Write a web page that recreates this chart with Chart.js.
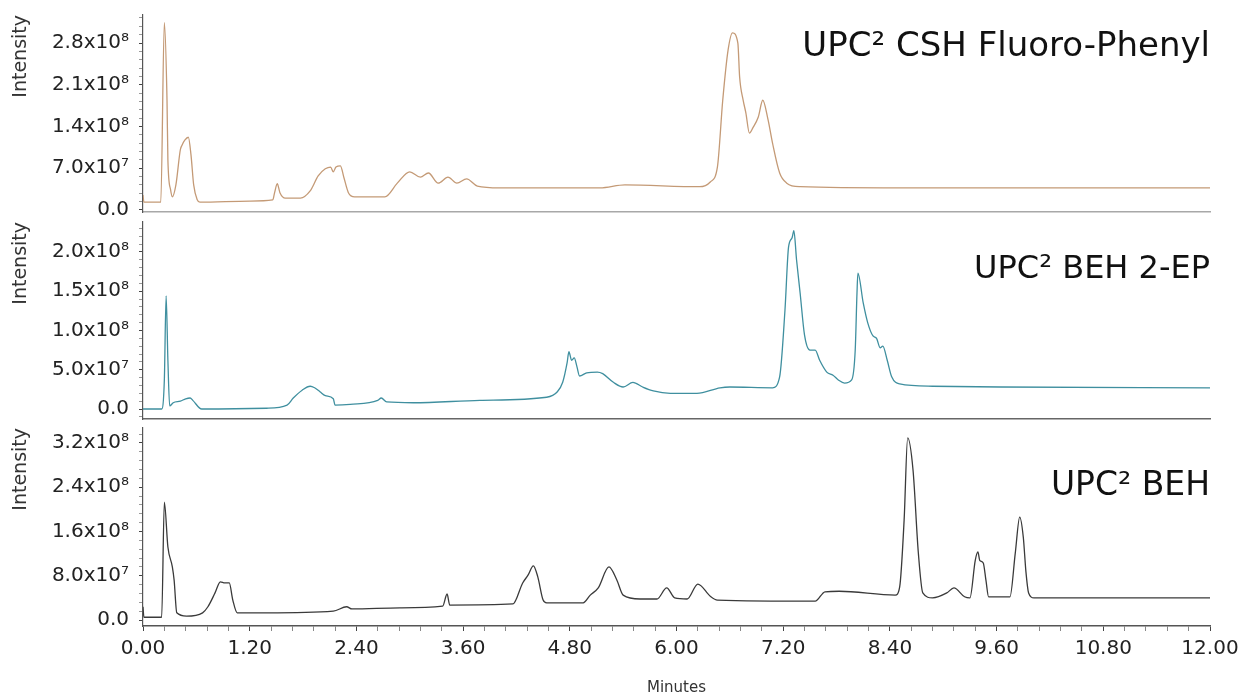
<!DOCTYPE html>
<html><head><meta charset="utf-8">
<script src="https://cdn.jsdelivr.net/npm/chart.js@4.4.1/dist/chart.umd.min.js"></script>
<style>
html,body{margin:0;padding:0;background:#fff;}
#wrap{position:relative;width:1247px;height:700px;overflow:hidden;background:#fff;}
.panel{position:absolute;left:0;width:1247px;}
</style></head><body>
<div id="wrap">
  <div class="panel" style="top:0;height:222px"><canvas id="c1"></canvas></div>
  <div class="panel" style="top:212px;height:217px"><canvas id="c2"></canvas></div>
  <div class="panel" style="top:420px;height:280px"><canvas id="c3"></canvas></div>
</div>
<script>
// ---------- data ----------
const timeCSH = [0.00,0.01,0.20,0.24,0.27,0.28,0.31,0.33,0.37,0.42,0.44,0.47,0.51,0.54,0.57,0.61,0.64,1.20,1.46,1.48,1.51,1.54,1.60,1.77,1.88,1.97,2.05,2.11,2.14,2.17,2.22,2.26,2.31,2.38,2.72,2.86,3.00,3.12,3.21,3.32,3.43,3.53,3.64,3.76,4.01,4.69,5.14,5.42,6.26,6.38,6.46,6.52,6.58,6.63,6.69,6.71,6.75,6.78,6.82,6.86,6.92,6.97,7.03,7.08,7.16,7.24,7.39,8.51,9.64,12.00];
const intensityCSH = [25e6,13e6,13e6,314e6,184e6,84e6,34e6,22e6,42e6,101e6,109e6,117e6,122e6,92e6,42e6,17e6,13e6,15e6,17e6,29e6,44e6,29e6,20e6,20e6,32e6,57e6,69e6,72e6,64e6,72e6,74e6,54e6,29e6,22e6,22e6,45e6,64e6,55e6,62e6,45e6,55e6,45e6,52e6,40e6,37e6,37e6,37e6,42e6,39e6,47e6,72e6,184e6,268e6,297e6,280e6,223e6,184e6,163e6,129e6,138e6,156e6,184e6,151e6,112e6,62e6,45e6,39e6,37e6,37e6,37e6];

const timeEP = [0.00,0.21,0.24,0.26,0.28,0.30,0.34,0.42,0.48,0.53,0.56,0.66,1.39,1.62,1.69,1.79,1.88,1.93,1.99,2.05,2.14,2.16,2.33,2.64,2.68,2.74,3.04,3.79,4.54,4.66,4.72,4.77,4.79,4.82,4.85,4.88,4.91,4.99,5.11,5.17,5.29,5.40,5.51,5.62,5.74,5.93,6.23,6.49,6.60,7.08,7.16,7.22,7.26,7.30,7.32,7.35,7.39,7.44,7.50,7.56,7.61,7.69,7.76,7.82,7.89,7.97,8.01,8.03,8.04,8.10,8.15,8.21,8.25,8.29,8.32,8.37,8.42,8.51,8.88,9.64,12.00];
const intensityEP = [0,0,37e6,144e6,62e6,4e6,8e6,10e6,13e6,14e6,11e6,0,1e6,5e6,14e6,24e6,29e6,27e6,22e6,17e6,13e6,5e6,6e6,11e6,14e6,9e6,8e6,11e6,15e6,22e6,34e6,59e6,73e6,62e6,65e6,54e6,42e6,46e6,47e6,45e6,34e6,28e6,34e6,28e6,23e6,20e6,20e6,27e6,28e6,27e6,41e6,126e6,206e6,218e6,227e6,190e6,148e6,94e6,75e6,75e6,62e6,47e6,43e6,37e6,33e6,37e6,75e6,148e6,173e6,135e6,110e6,93e6,90e6,78e6,80e6,62e6,41e6,32e6,29e6,28e6,27e6];

const timeBEH = [0.00,0.01,0.21,0.24,0.28,0.33,0.35,0.38,0.49,0.67,0.73,0.81,0.87,0.92,0.97,1.01,1.06,1.39,2.14,2.29,2.35,2.89,3.37,3.42,3.45,4.16,4.27,4.33,4.39,4.44,4.50,4.54,4.95,5.03,5.12,5.24,5.33,5.40,5.59,5.78,5.89,5.98,6.12,6.24,6.38,6.46,7.56,7.67,7.83,8.46,8.51,8.56,8.60,8.66,8.72,8.77,8.88,9.04,9.12,9.24,9.30,9.36,9.39,9.41,9.45,9.48,9.51,9.75,9.81,9.86,9.90,9.93,9.96,10.02,12.00];
const intensityBEH = [24e6,5e6,5e6,213e6,132e6,96e6,72e6,13e6,7e6,13e6,24e6,49e6,69e6,67e6,67e6,36e6,13e6,13e6,16e6,24e6,20e6,22e6,25e6,47e6,27e6,29e6,67e6,81e6,98e6,78e6,36e6,31e6,31e6,45e6,58e6,96e6,72e6,45e6,38e6,38e6,58e6,40e6,38e6,65e6,43e6,36e6,34e6,51e6,52e6,45e6,60e6,181e6,329e6,271e6,121e6,49e6,40e6,49e6,58e6,42e6,40e6,108e6,123e6,108e6,103e6,72e6,42e6,42e6,121e6,186e6,150e6,87e6,49e6,40e6,40e6];

const xTickValues = [0,1.2,2.4,3.6,4.8,6.0,7.2,8.4,9.6,10.8,12.0];
const xTickLabels = ['0.00','1.20','2.40','3.60','4.80','6.00','7.20','8.40','9.60','10.80','12.00'];

const yTicksCSH = [0,7e7,1.4e8,2.1e8,2.8e8];
const yLabelsCSH = ['0.0','7.0x10⁷','1.4x10⁸','2.1x10⁸','2.8x10⁸'];
const yTicksEP = [0,5e7,1e8,1.5e8,2e8];
const yLabelsEP = ['0.0','5.0x10⁷','1.0x10⁸','1.5x10⁸','2.0x10⁸'];
const yTicksBEH = [0,8e7,1.6e8,2.4e8,3.2e8];
const yLabelsBEH = ['0.0','8.0x10⁷','1.6x10⁸','2.4x10⁸','3.2x10⁸'];

const panelTitles = ['UPC² CSH Fluoro-Phenyl','UPC² BEH 2-EP','UPC² BEH'];
const axisTitleY = 'Intensity';
const axisTitleX = 'Minutes';

// ---------- helpers ----------
const FONT = '"DejaVu Sans", Verdana, sans-serif';

function tickList(majors, subdiv, min, max) {
  const step = (majors[1] - majors[0]) / subdiv;
  const out = [];
  const first = majors[0];
  let k = Math.ceil((min - first) / step - 1e-9);
  for (;; k++) {
    const v = first + k * step;
    if (v > max + 1e-9) break;
    const major = majors.some(m => Math.abs(m - v) < step * 1e-3);
    out.push({value: Math.round(v * 1e6) / 1e6, major});
  }
  return out;
}

function labelFor(values, labels) {
  return (v) => {
    const i = values.findIndex(m => Math.abs(m - v) < Math.abs(values[1] - values[0]) * 1e-3);
    return i >= 0 ? labels[i] : '';
  };
}

const panelTitlePlugin = {
  id: 'panelTitle',
  afterDraw(chart, args, opts) {
    if (!opts || !opts.text) return;
    const {ctx, chartArea} = chart;
    ctx.save();
    ctx.font = opts.size + 'px ' + FONT;
    ctx.fillStyle = '#111';
    ctx.textAlign = 'right';
    ctx.textBaseline = 'middle';
    ctx.fillText(opts.text, chartArea.right, chartArea.top + opts.offsetY);
    ctx.restore();
  }
};

function makePanel(id, cfg) {
  const data = cfg.times.map((t, i) => ({x: t, y: cfg.values[i]}));
  const showX = cfg.showX;
  return new Chart(document.getElementById(id), {
    type: 'line',
    data: { datasets: [{ data, borderColor: cfg.color, borderWidth: 1.3, pointRadius: 0, cubicInterpolationMode: 'monotone', fill: false }] },
    plugins: [panelTitlePlugin],
    options: {
      responsive: true, maintainAspectRatio: false, animation: false,
      layout: { padding: { left: 0, right: 37, top: cfg.padTop, bottom: 0 } },
      plugins: {
        legend: { display: false }, tooltip: { enabled: false },
        panelTitle: { text: cfg.title, size: cfg.titleSize, offsetY: cfg.titleOffset }
      },
      scales: {
        x: {
          type: 'linear', min: 0, max: 12,
          afterBuildTicks: s => { s.ticks = tickList(xTickValues, 5, 0, 12); },
          afterFit: s => { s.height = cfg.xHeight; s.paddingLeft = 0; s.paddingRight = 0; },
          ticks: { display: showX, autoSkip: false, maxRotation: 0, padding: 6, color: '#222',
                   font: { family: FONT, size: 20 }, callback: labelFor(xTickValues, xTickLabels) },
          grid: { display: showX, drawOnChartArea: false, tickLength: 5,
                  color: c => (c.tick && c.tick.major) ? '#444' : '#888' },
          border: { display: true, color: cfg.xBorder, width: 1.5 },
          title: { display: showX, text: axisTitleX, color: '#333', font: { family: FONT, size: 15 }, padding: { top: 0, bottom: 3 } }
        },
        y: {
          type: 'linear', position: 'left', min: cfg.yMin, max: cfg.yMax,
          afterBuildTicks: s => { s.ticks = tickList(cfg.yTicks, 5, cfg.yMin, cfg.yMax); },
          afterFit: s => { s.width = 143; s.paddingTop = 0; s.paddingBottom = 0; },
          ticks: { autoSkip: false, padding: 10, color: '#222', font: { family: FONT, size: 20 },
                   callback: labelFor(cfg.yTicks, cfg.yLabels) },
          grid: { drawOnChartArea: false, tickLength: 4,
                  color: c => (c.tick && c.tick.major) ? '#444' : '#999' },
          border: { display: true, color: '#555', width: 1.2 },
          title: { display: true, text: axisTitleY, align: 'end', color: '#333',
                   font: { family: FONT, size: 19 }, padding: { top: 10, bottom: 0 } }
        }
      }
    }
  });
}

makePanel('c1', { times: timeCSH, values: intensityCSH, color: '#c49a76', title: panelTitles[0], titleOffset: 32, titleSize: 34,
  yTicks: yTicksCSH, yLabels: yLabelsCSH, yMin: -3.4e6, yMax: 3.27e8, padTop: 15, xHeight: 10, showX: false, xBorder: '#a8a8a8' });
makePanel('c2', { times: timeEP, values: intensityEP, color: '#3f8f9f', title: panelTitles[1], titleOffset: 48, titleSize: 32,
  yTicks: yTicksEP, yLabels: yLabelsEP, yMin: -1.27e7, yMax: 2.38e8, padTop: 10, xHeight: 10, showX: false, xBorder: '#666' });
makePanel('c3', { times: timeBEH, values: intensityBEH, color: '#3a3a3a', title: panelTitles[2], titleOffset: 58, titleSize: 33,
  yTicks: yTicksBEH, yLabels: yLabelsBEH, yMin: -1.08e7, yMax: 3.47e8, padTop: 8, xHeight: 74, showX: true, xBorder: '#555' });
</script>
</body></html>
